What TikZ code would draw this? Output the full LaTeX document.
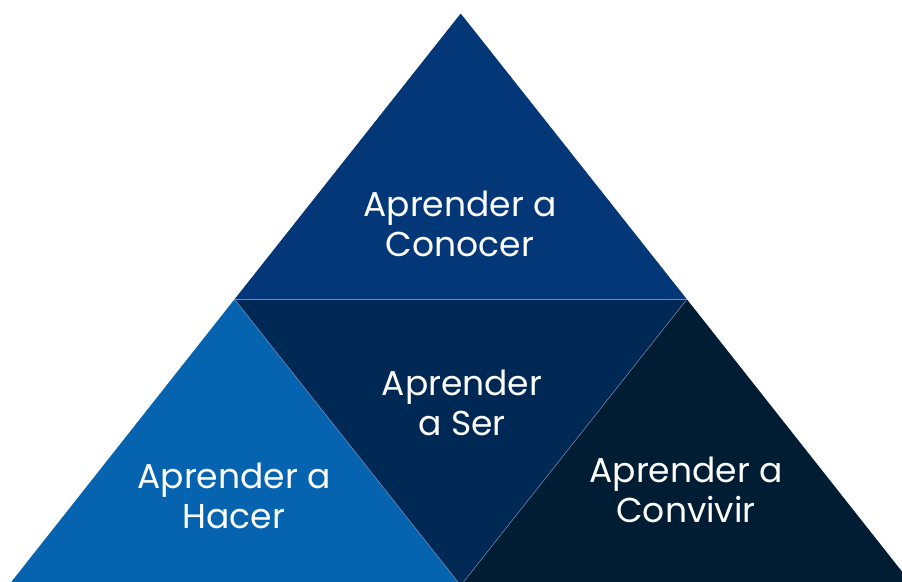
\documentclass[tikz,border=0pt]{standalone}
\usepackage{fontspec}
\setmainfont{Poppins}
\definecolor{ctop}{RGB}{4,55,120}
\definecolor{cmid}{RGB}{0,40,84}
\definecolor{cleft}{RGB}{5,99,175}
\definecolor{cright}{RGB}{0,29,51}
\definecolor{cedge}{RGB}{110,140,180}
\begin{document}
\begin{tikzpicture}[x=1pt,y=-1pt,
  tri/.style={draw=cedge,line width=0.5pt,line join=miter},
  lbl/.style={text=white,align=center,font=\fontsize{34.5}{40}\selectfont,inner sep=0pt}]
\useasboundingbox (0,0) rectangle (902,581);
\begin{scope}
\clip (0,0) rectangle (902,581);
\coordinate (apex) at (460.7,13.5);
\coordinate (ml) at (234.5,299.3);
\coordinate (mr) at (686.9,299.3);
\coordinate (bl) at (8.5,585.5);
\coordinate (bm) at (460.7,585.5);
\coordinate (br) at (913,585.5);
\fill[ctop] (apex) -- (ml) -- (mr) -- cycle;
\fill[cmid] (ml) -- (mr) -- (bm) -- cycle;
\fill[cleft] (ml) -- (bl) -- (bm) -- cycle;
\fill[cright] (mr) -- (bm) -- (br) -- cycle;
\draw[tri] (ml) -- (mr);
\draw[tri] (ml) -- (bm) -- (mr);
\end{scope}
\node[lbl] (t) at (460,224) {Aprender a\\Conocer};
\node[lbl] (m) at (462,403) {Aprender\\a Ser};
\node[lbl] (l) at (234,496) {Aprender a\\Hacer};
\node[lbl] (r) at (686,490) {Aprender a\\Convivir};
\end{tikzpicture}
\end{document}
